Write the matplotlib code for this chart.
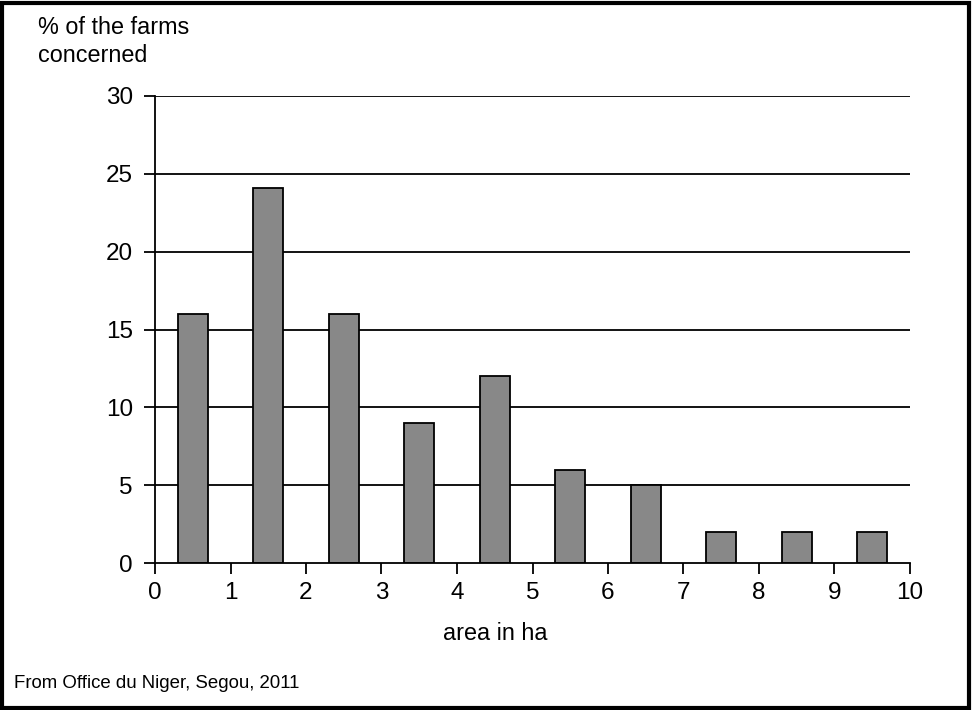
import matplotlib
matplotlib.use("Agg")
import matplotlib.pyplot as plt
from matplotlib.patches import Rectangle

plt.rcParams['font.family'] = ['Liberation Sans', 'DejaVu Sans']

centers = [0.5, 1.5, 2.5, 3.5, 4.5, 5.5, 6.5, 7.5, 8.5, 9.5]
values = [16, 24.1, 16, 9, 12, 6, 5, 2, 2, 2]
xticks = list(range(0, 11))
yticks = [0, 5, 10, 15, 20, 25, 30]

W, H = 974, 710
fig = plt.figure(figsize=(W/100, H/100), dpi=100)
ax = fig.add_axes([155/W, (H-563)/H, (910-155)/W, (563-96)/H])

for y in yticks[1:]:
    ax.axhline(y, color='black', lw=1.3, zorder=1)
ax.bar(centers, values, width=0.4, color='#888888', edgecolor='black', linewidth=1.3, zorder=2)

ax.set_xlim(0, 10)
ax.set_ylim(0, 30)
ax.set_xticks(xticks)
ax.set_yticks(yticks)
for s in ['top', 'right']:
    ax.spines[s].set_visible(False)
for s in ['left', 'bottom']:
    ax.spines[s].set_linewidth(1.3)
ax.tick_params(axis='both', direction='out', length=8, width=1.3, labelsize=17.5)
ax.tick_params(axis='y', pad=8)
ax.tick_params(axis='x', pad=5.5)

fig.text(38/W, 1-27/H, '% of the farms', fontsize=16.8, va='center', ha='left')
fig.text(38/W, 1-55/H, 'concerned', fontsize=16.8, va='center', ha='left')
fig.text(495/W, 1-633/H, 'area in ha', fontsize=16.8, va='center', ha='center')
fig.text(14/W, 1-683/H, 'From Office du Niger, Segou, 2011', fontsize=13.4, va='center', ha='left')

fig.patches.append(Rectangle((2/W, 2/H), (W-7)/W, (H-5)/H, transform=fig.transFigure,
                             fill=False, edgecolor='black', linewidth=3))

fig.savefig('out.png', dpi=100)
